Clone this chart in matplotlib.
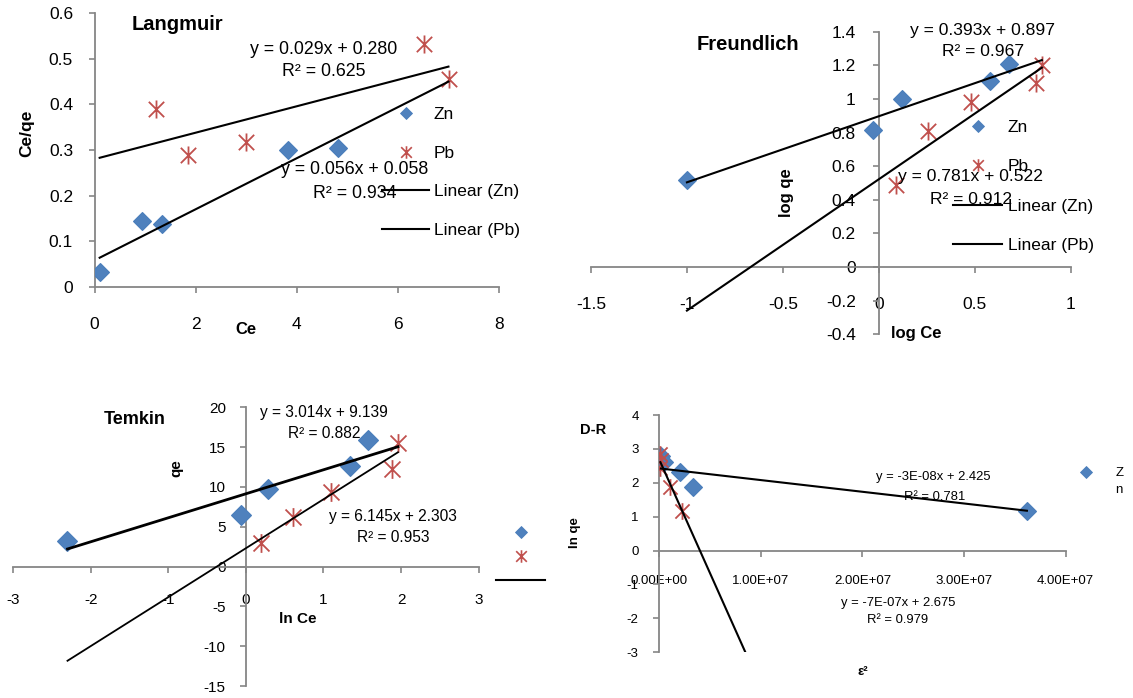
import numpy as np
import matplotlib
matplotlib.use('Agg')
import matplotlib.pyplot as plt
from matplotlib.lines import Line2D
from matplotlib.path import Path
from matplotlib.ticker import FixedLocator, FuncFormatter

plt.rcParams['font.family'] = ['Liberation Sans', 'DejaVu Sans']
plt.rcParams['axes.unicode_minus'] = False

W, H = 1133, 698

# ---------------- data ----------------
# Langmuir
lang_zn_ce = [0.10, 0.94, 1.33, 3.82, 4.81]
lang_zn_ceqe = [0.032, 0.145, 0.137, 0.300, 0.304]
lang_pb_ce = [1.22, 1.84, 3.00, 6.52, 7.02]
lang_pb_ceqe = [0.390, 0.289, 0.318, 0.533, 0.455]
lang_fit_zn = [0.056, 0.058]   # slope, intercept
lang_fit_pb = [0.029, 0.280]
lang_fit_x = [0.1, 7.0]
lang_eq = ["y = 0.029x + 0.280", "R² = 0.625", "y = 0.056x + 0.058", "R² = 0.934"]

# Freundlich
freu_zn_logce = [-1.00, -0.028, 0.12, 0.582, 0.681]
freu_zn_logqe = [0.520, 0.814, 0.997, 1.106, 1.206]
freu_pb_logce = [0.091, 0.258, 0.481, 0.820, 0.849]
freu_pb_logqe = [0.491, 0.808, 0.983, 1.093, 1.200]
freu_fit_zn = [0.393, 0.897]
freu_fit_pb = [0.781, 0.522]
freu_fit_x = [-1.0, 0.85]
freu_eq = ["y = 0.393x + 0.897", "R² = 0.967", "y = 0.781x + 0.522", "R² = 0.912"]

# Temkin
temk_zn_lnce = [-2.30, -0.06, 0.29, 1.34, 1.57]
temk_zn_qe = [3.24, 6.47, 9.74, 12.67, 15.90]
temk_pb_lnce = [0.20, 0.605, 1.10, 1.88, 1.96]
temk_pb_qe = [2.99, 6.26, 9.40, 12.20, 15.50]
temk_fit_zn = [3.014, 9.139]
temk_fit_pb = [6.145, 2.303]
temk_fit_x = [-2.3, 1.96]
temk_eq = ["y = 3.014x + 9.139", "R² = 0.882", "y = 6.145x + 2.303", "R² = 0.953"]

# D-R
dr_zn_eps2 = [1.5e5, 5.0e5, 2.0e6, 3.3e6, 3.62e7]
dr_zn_lnqe = [2.80, 2.60, 2.31, 1.88, 1.18]
dr_pb_eps2 = [0.3e5, 1.7e5, 0.5e5, 1.0e6, 2.23e6]
dr_pb_lnqe = [2.86, 2.66, 2.44, 1.88, 1.16]
dr_fit_zn = [-3.45e-8, 2.425]
dr_fit_zn_x = [1.5e5, 3.62e7]
dr_fit_pb = [-6.7e-7, 2.675]
dr_fit_pb_x = [1.0e5, 9.0e6]
dr_eq = ["y = -3E-08x + 2.425", "R² = 0.781", "y = -7E-07x + 2.675", "R² = 0.979"]

series_names = ["Zn", "Pb", "Linear (Zn)", "Linear (Pb)"]

# ---------------- style ----------------
BLUE = '#4F81BD'
BLUE_EDGE = '#4A7EBB'
RED = '#C0504D'
GRAY = '#868686'

star = Path([(-0.85, -0.85), (0.85, 0.85), (-0.85, 0.85), (0.85, -0.85), (0, -1), (0, 1)],
            [Path.MOVETO, Path.LINETO, Path.MOVETO, Path.LINETO, Path.MOVETO, Path.LINETO])

fig = plt.figure(figsize=(W / 100, H / 100), dpi=100)


def rect(l, t, r, b):
    return [l / W, 1 - b / H, (r - l) / W, (b - t) / H]


def ftxt(x, y, s, **kw):
    fig.text(x / W, 1 - y / H, s, **kw)


def style(ax, fs, xpad, ypad):
    for s in ['top', 'right']:
        ax.spines[s].set_visible(False)
    for s in ['left', 'bottom']:
        ax.spines[s].set_color(GRAY)
        ax.spines[s].set_linewidth(1.3)
    ax.tick_params(axis='both', direction='out', length=4.5, width=1.2, color=GRAY,
                   labelsize=fs, labelcolor='black')
    ax.tick_params(axis='x', pad=xpad)
    ax.tick_params(axis='y', pad=ypad)
    ax.patch.set_visible(False)


def gfmt(v, pos=None):
    v = round(v, 3)
    if abs(v) < 1e-12:
        v = 0.0
    return f"{v:g}"


def draw(ax, zx, zy, px, py, fz, fp, fxz, fxp, dms, sms, lw_z=1.5, lw_p=1.5):
    ax.plot(zx, zy, ls='none', marker='D', ms=dms, mfc=BLUE, mec=BLUE_EDGE, mew=0.8, zorder=3)
    ax.plot(px, py, ls='none', marker=star, ms=sms, mfc='none', mec=RED, mew=1.3, zorder=3)
    xz = np.array(fxz)
    xp = np.array(fxp)
    ax.plot(xz, fz[0] * xz + fz[1], color='black', lw=lw_z, zorder=4)
    ax.plot(xp, fp[0] * xp + fp[1], color='black', lw=lw_p, zorder=4)


def legend(ax, handles, labels, left, top, fs, hl_px, tp_px, ls):
    fpx = fs * 100 / 72
    ax.legend(handles, labels, loc='upper left',
              bbox_to_anchor=(left / W, 1 - top / H), bbox_transform=fig.transFigure,
              frameon=False, fontsize=fs, handlelength=hl_px / fpx,
              handletextpad=tp_px / fpx, labelspacing=ls, borderpad=0, borderaxespad=0)


def handles(dms, sms, n=4):
    h = [Line2D([], [], ls='none', marker='D', ms=dms, mfc=BLUE, mec=BLUE_EDGE, mew=0.6),
         Line2D([], [], ls='none', marker=star, ms=sms, mfc='none', mec=RED, mew=1.2),
         Line2D([], [], color='black', lw=1.5),
         Line2D([], [], color='black', lw=1.5)]
    return h[:n]


# ---------------- Langmuir ----------------
ax1 = fig.add_axes(rect(94.6, 13.3, 499, 286.7))
ax1.set_xlim(0, 8)
ax1.set_ylim(0, 0.6)
ax1.xaxis.set_major_locator(FixedLocator([0, 2, 4, 6, 8]))
ax1.yaxis.set_major_locator(FixedLocator([0, 0.1, 0.2, 0.3, 0.4, 0.5, 0.6]))
ax1.xaxis.set_major_formatter(FuncFormatter(gfmt))
ax1.yaxis.set_major_formatter(FuncFormatter(gfmt))
style(ax1, 12.5, 17, 11)
draw(ax1, lang_zn_ce, lang_zn_ceqe, lang_pb_ce, lang_pb_ceqe, lang_fit_zn, lang_fit_pb,
     lang_fit_x, lang_fit_x, 9.2, 13)
legend(ax1, handles(6, 9), series_names, 382, 107, 12.5, 47, 5, 1.35)
ftxt(177.9, 25, "Langmuir", fontsize=14.5, fontweight='bold', ha='center', va='center')
ftxt(246, 330, "Ce", fontsize=12, fontweight='bold', ha='center', va='center')
ftxt(27, 133, "Ce/qe", fontsize=12.5, fontweight='bold', ha='center', va='center', rotation=90)
ftxt(324, 49, lang_eq[0], fontsize=12.8, ha='center', va='center')
ftxt(324, 72, lang_eq[1], fontsize=12.8, ha='center', va='center')
ftxt(355, 170, lang_eq[2], fontsize=12.8, ha='center', va='center')
ftxt(355, 193, lang_eq[3], fontsize=12.8, ha='center', va='center')

# ---------------- Freundlich ----------------
ax2 = fig.add_axes(rect(591, 31.7, 1070.6, 334.3))
ax2.set_xlim(-1.5, 1)
ax2.set_ylim(-0.4, 1.4)
ax2.spines['left'].set_position(('data', 0))
ax2.spines['bottom'].set_position(('data', 0))
ax2.xaxis.set_major_locator(FixedLocator([-1.5, -1, -0.5, 0, 0.5, 1]))
ax2.yaxis.set_major_locator(FixedLocator([-0.4, -0.2, 0, 0.2, 0.4, 0.6, 0.8, 1.0, 1.2, 1.4]))
ax2.xaxis.set_major_formatter(FuncFormatter(gfmt))
ax2.yaxis.set_major_formatter(FuncFormatter(gfmt))
style(ax2, 12.5, 16.8, 12)
draw(ax2, freu_zn_logce, freu_zn_logqe, freu_pb_logce, freu_pb_logqe, freu_fit_zn, freu_fit_pb,
     freu_fit_x, freu_fit_x, 9.2, 13)
legend(ax2, handles(6, 9), series_names, 953, 120, 12.5, 49, 5.7, 1.39)
ftxt(747.5, 45, "Freundlich", fontsize=14.5, fontweight='bold', ha='center', va='center')
ftxt(916, 333, "log Ce", fontsize=12, fontweight='bold', ha='center', va='center')
ftxt(787, 193, "log qe", fontsize=12, fontweight='bold', ha='center', va='center', rotation=90)
ftxt(983, 30, freu_eq[0], fontsize=12.6, ha='center', va='center')
ftxt(983, 52, freu_eq[1], fontsize=12.6, ha='center', va='center')
ftxt(971, 176, freu_eq[2], fontsize=12.6, ha='center', va='center')
ftxt(971, 199, freu_eq[3], fontsize=12.6, ha='center', va='center')

# ---------------- Temkin ----------------
ax3 = fig.add_axes(rect(13.2, 407.3, 478.6, 686))
ax3.set_xlim(-3, 3)
ax3.set_ylim(-15, 20)
ax3.spines['left'].set_position(('data', 0))
ax3.spines['bottom'].set_position(('data', 0))
ax3.xaxis.set_major_locator(FixedLocator([-3, -2, -1, 0, 1, 2, 3]))
ax3.yaxis.set_major_locator(FixedLocator([-15, -10, -5, 0, 5, 10, 15, 20]))
ax3.xaxis.set_major_formatter(FuncFormatter(gfmt))
ax3.yaxis.set_major_formatter(FuncFormatter(gfmt))
style(ax3, 11, 14.5, 10)
draw(ax3, temk_zn_lnce, temk_zn_qe, temk_pb_lnce, temk_pb_qe, temk_fit_zn, temk_fit_pb,
     temk_fit_x, temk_fit_x, 9.8, 13.5, lw_z=2.0, lw_p=1.3)
legend(ax3, handles(6, 9, 3), [" ", " ", " "], 496, 526, 11, 49, 4, 0.68)
ftxt(135, 420, "Temkin", fontsize=13, fontweight='bold', ha='center', va='center')
ftxt(298, 619, "ln Ce", fontsize=11, fontweight='bold', ha='center', va='center')
ftxt(176, 468, "qe", fontsize=11, fontweight='bold', ha='center', va='center', rotation=90)
ftxt(324, 413, temk_eq[0], fontsize=11.2, ha='center', va='center')
ftxt(324, 434, temk_eq[1], fontsize=11.2, ha='center', va='center')
ftxt(393, 516, temk_eq[2], fontsize=11.2, ha='center', va='center')
ftxt(393, 537, temk_eq[3], fontsize=11.2, ha='center', va='center')

# ---------------- D-R ----------------
ax4 = fig.add_axes(rect(659.4, 415, 1065.5, 652.3))
ax4.set_xlim(0, 4e7)
ax4.set_ylim(-3, 4)
ax4.spines['left'].set_position(('data', 0))
ax4.spines['bottom'].set_position(('data', 0))
ax4.xaxis.set_major_locator(FixedLocator([0, 1e7, 2e7, 3e7, 4e7]))
ax4.yaxis.set_major_locator(FixedLocator([-3, -2, -1, 0, 1, 2, 3, 4]))
ax4.xaxis.set_major_formatter(FuncFormatter(lambda v, p: f"{v:.2E}"))
ax4.yaxis.set_major_formatter(FuncFormatter(gfmt))
style(ax4, 9.5, 13, 10.5)
draw(ax4, dr_zn_eps2, dr_zn_lnqe, dr_pb_eps2, dr_pb_lnqe, dr_fit_zn, dr_fit_pb,
     dr_fit_zn_x, dr_fit_pb_x, 8.8, 12)
legend(ax4, handles(6, 9, 1), ["Z"], 1070, 467, 9.5, 32, 13.6, 0.5)
ftxt(1115.6, 490, "n", fontsize=9.5, ha='left', va='center')
ftxt(593, 430, "D-R", fontsize=10.5, fontweight='bold', ha='center', va='center')
ftxt(863, 672, "ε²", fontsize=9.5, fontweight='bold', ha='center', va='center')
ftxt(574.6, 533, "ln qe", fontsize=9.5, fontweight='bold', ha='center', va='center', rotation=90)
ftxt(933.5, 477, dr_eq[0], fontsize=9.4, ha='center', va='center')
ftxt(934.6, 497, dr_eq[1], fontsize=9.4, ha='center', va='center')
ftxt(898, 603, dr_eq[2], fontsize=9.4, ha='center', va='center')
ftxt(898, 620, dr_eq[3], fontsize=9.4, ha='center', va='center')

fig.savefig('out.png', dpi=100)
